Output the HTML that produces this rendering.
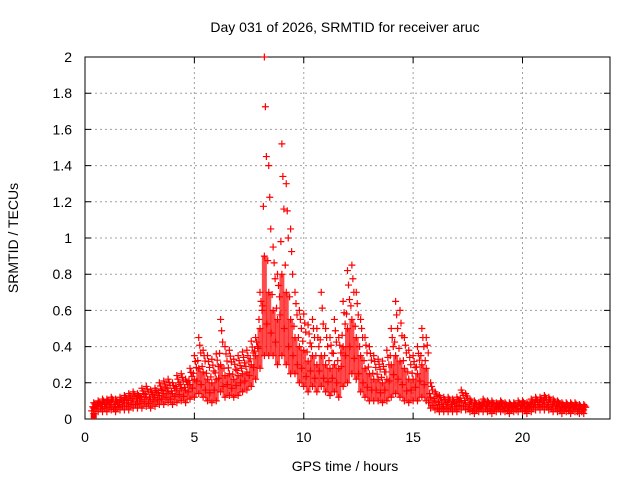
<!DOCTYPE html>
<html><head><meta charset="utf-8"><style>
html,body{margin:0;padding:0;background:#fff}
svg text{font-family:"Liberation Sans",sans-serif;font-size:14px;fill:#000}
</style></head><body>
<svg id="chart" width="640" height="480" viewBox="0 0 640 480" xmlns="http://www.w3.org/2000/svg">
<rect width="640" height="480" fill="#fff"/>
<g id="grid"></g>
<g id="axes"></g>
<g id="marks"></g>
<text x="345" y="32" text-anchor="middle">Day 031 of 2026, SRMTID for receiver aruc</text>
<text x="345" y="471" text-anchor="middle">GPS time / hours</text>
<text x="0" y="0" text-anchor="middle" transform="translate(18,238) rotate(-90)">SRMTID / TECUs</text>
</svg>
<script>
const times=[0.4,0.6,0.8,1.0,1.2,1.4,1.6,1.8,2.0,2.2,2.4,2.6,2.8,3.0,3.2,3.4,3.6,3.8,4.0,4.2,4.4,4.6,4.8,5.0,5.2,5.4,5.6,5.8,6.0,6.2,6.4,6.6,6.8,7.0,7.2,7.4,7.6,7.8,8.0,8.2,8.4,8.6,8.8,9.0,9.2,9.4,9.6,9.8,10.0,10.2,10.4,10.6,10.8,11.0,11.2,11.4,11.6,11.8,12.0,12.2,12.4,12.6,12.8,13.0,13.2,13.4,13.6,13.8,14.0,14.2,14.4,14.6,14.8,15.0,15.2,15.4,15.6,15.8,16.0,16.2,16.4,16.6,16.8,17.0,17.2,17.4,17.6,17.8,18.0,18.2,18.4,18.6,18.8,19.0,19.2,19.4,19.6,19.8,20.0,20.2,20.4,20.6,20.8,21.0,21.2,21.4,21.6,21.8,22.0,22.2,22.4,22.6,22.8];
const loVals=[.03,.04,.04,.04,.05,.04,.05,.05,.05,.06,.06,.06,.07,.06,.07,.08,.08,.09,.08,.09,.10,.09,.11,.12,.14,.12,.10,.09,.10,.15,.12,.13,.12,.13,.15,.16,.18,.22,.28,.35,.35,.35,.30,.35,.30,.25,.25,.20,.18,.15,.18,.15,.18,.15,.13,.15,.12,.18,.20,.25,.22,.15,.12,.10,.10,.10,.09,.10,.12,.14,.12,.10,.09,.10,.10,.12,.10,.06,.05,.04,.04,.04,.04,.04,.05,.05,.04,.03,.04,.04,.04,.03,.04,.04,.04,.03,.04,.04,.04,.03,.04,.05,.05,.05,.05,.04,.04,.03,.04,.03,.04,.03,.03];
const midVals=[.06,.07,.07,.08,.08,.07,.08,.09,.09,.10,.10,.11,.12,.11,.12,.13,.14,.15,.14,.16,.17,.16,.19,.22,.28,.26,.22,.20,.22,.30,.24,.25,.22,.24,.25,.26,.30,.35,.50,.90,.70,.60,.55,.80,.70,.55,.45,.40,.38,.32,.35,.30,.35,.30,.28,.30,.28,.40,.50,.55,.45,.35,.28,.25,.22,.22,.20,.22,.30,.35,.32,.28,.22,.22,.25,.30,.28,.12,.10,.08,.07,.08,.07,.07,.10,.09,.07,.06,.06,.07,.07,.06,.06,.07,.06,.06,.06,.06,.07,.06,.07,.08,.08,.09,.08,.07,.07,.06,.06,.06,.06,.05,.05];
const hiVals=[.09,.10,.11,.11,.12,.11,.12,.13,.14,.15,.14,.17,.18,.16,.17,.20,.21,.22,.20,.24,.25,.22,.28,.35,.45,.38,.35,.33,.36,.55,.40,.38,.33,.35,.37,.38,.43,.45,.70,2.0,1.40,.95,.80,1.52,1.30,1.05,.70,.60,.58,.52,.55,.50,.70,.50,.45,.55,.45,.65,.82,.85,.70,.55,.45,.40,.35,.33,.32,.38,.50,.65,.60,.45,.38,.35,.40,.50,.45,.20,.15,.13,.12,.12,.11,.12,.16,.14,.11,.10,.09,.11,.10,.10,.09,.10,.09,.09,.09,.10,.10,.09,.11,.12,.12,.13,.12,.11,.10,.09,.09,.09,.09,.08,.08];
const xTicks=[0,5,10,15,20];
const yTicks=[0,0.2,0.4,0.6,0.8,1,1.2,1.4,1.6,1.8,2];
const yTickLabels=["0","0.2","0.4","0.6","0.8","1","1.2","1.4","1.6","1.8","2"];
const X0=85,X1=610,Y0=419,Y1=57,XMAX=24,YMAX=2;
function xs(v){return X0+(X1-X0)*v/XMAX;}
function ys(v){return Y0-(Y0-Y1)*v/YMAX;}
const NS="http://www.w3.org/2000/svg";
function mk(tag,attrs,parent){const e=document.createElementNS(NS,tag);for(const k in attrs)e.setAttribute(k,attrs[k]);parent.appendChild(e);return e;}
const grid=document.getElementById('grid'),axes=document.getElementById('axes'),marks=document.getElementById('marks');
xTicks.forEach((t,i)=>{const x=xs(t);
 if(i>0){const g=mk('line',{x1:x,y1:Y0,x2:x,y2:Y1,stroke:'#a0a0a0','stroke-dasharray':'2,3'},grid);}
 const tk=mk('path',{d:`M${x},${Y0}v-6M${x},${Y1}v6`,stroke:'#000'},axes);
 const l=mk('text',{x:x,y:442,'text-anchor':'middle'},axes);l.textContent=t;});
yTicks.forEach((t,i)=>{const y=ys(t);
 if(i>0&&i<yTicks.length-1){const g=mk('line',{x1:X0,y1:y,x2:X1,y2:y,stroke:'#a0a0a0','stroke-dasharray':'2,3'},grid);}
 const tk=mk('path',{d:`M${X0},${y}h6M${X1},${y}h-6`,stroke:'#000'},axes);
 const l=mk('text',{x:72,y:y+5,'text-anchor':'end'},axes);l.textContent=yTickLabels[i];});
const border=mk('rect',{x:X0,y:Y1,width:X1-X0,height:Y0-Y1,fill:'none',stroke:'#000'},axes);


let d='';
function plus(x,y){d+=`M${x-3.5},${y}h7M${x},${y-3.5}v7`;}
times.forEach((t,i)=>{const x=xs(t);
 const span=mk('line',{x1:x,y1:ys(loVals[i]),x2:x,y2:ys(midVals[i]),stroke:'#f00','stroke-width':5,opacity:0.7},marks);
 
 
 const m=midVals[i],h=hiVals[i];
 plus(x,ys(loVals[i]));plus(x,ys(m));plus(x,ys(h));
 plus(x-2,ys((loVals[i]+m)/2));plus(x+2,ys((m+h)/2));
 plus(x-1,ys(m+(h-m)*0.25));plus(x+1,ys(m+(h-m)*0.75));});
const pts=mk('path',{d:d,stroke:'#f00','stroke-width':1.2,fill:'none'},marks);


const sq=mk('rect',{x:xs(0.4)-3,y:ys(0)-6,width:6,height:6,fill:'#f00'},marks);


</script>
</body></html>
